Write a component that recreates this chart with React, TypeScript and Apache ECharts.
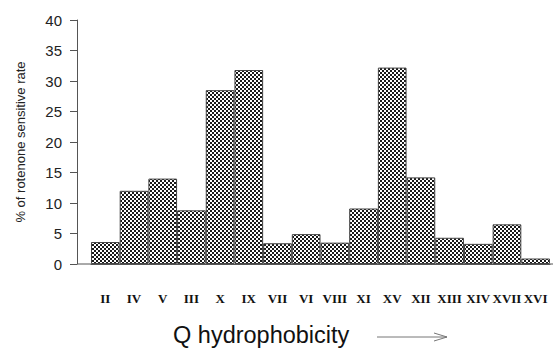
import React, { useEffect, useRef } from "react";
import * as echarts from "echarts";

const categories = ["II", "IV", "V", "III", "X", "IX", "VII", "VI", "VIII", "XI", "XV", "XII", "XIII", "XIV", "XVII", "XVI"];
const rates = [3.6, 12.0, 14.0, 8.8, 28.5, 31.8, 3.4, 4.9, 3.5, 9.1, 32.2, 14.2, 4.3, 3.3, 6.5, 0.9];
const yTicks = { min: 0, max: 40, interval: 5 };
const yTitle = "% of rotenone sensitive rate";
const xTitle = "Q hydrophobicity";

function makePattern(): HTMLCanvasElement {
  const c = document.createElement("canvas");
  c.width = 4;
  c.height = 4;
  const ctx = c.getContext("2d")!;
  ctx.fillStyle = "#ffffff";
  ctx.fillRect(0, 0, 4, 4);
  ctx.fillStyle = "#1a1a1a";
  ctx.fillRect(0, 0, 2, 2);
  ctx.fillRect(2, 2, 2, 2);
  return c;
}

export default function App() {
  const ref = useRef<HTMLDivElement>(null);
  useEffect(() => {
    if (!ref.current) return;
    const chart = echarts.init(ref.current, null, { renderer: "svg" });
    const pattern = makePattern();
    chart.setOption({
      animation: false,
      backgroundColor: "#ffffff",
      grid: { left: 91, right: 5, top: 20, bottom: 88, containLabel: false },
      xAxis: {
        type: "category",
        data: categories,
        boundaryGap: true,
        axisLine: { show: true, lineStyle: { color: "#555", width: 1 } },
        axisTick: { show: false },
        axisLabel: {
          interval: 0,
          margin: 28,
          fontFamily: "Liberation Serif",
          fontWeight: "bold",
          fontSize: 13,
          color: "#111",
        },
      },
      yAxis: {
        type: "value",
        min: yTicks.min,
        max: yTicks.max,
        interval: yTicks.interval,
        offset: 14,
        name: yTitle,
        nameLocation: "middle",
        nameGap: 50,
        nameTextStyle: { fontFamily: "Liberation Sans", fontSize: 13, color: "#222" },
        axisLine: { show: true, lineStyle: { color: "#555", width: 1 } },
        axisTick: { show: true, inside: false, length: 7, lineStyle: { color: "#555" } },
        axisLabel: { margin: 15, fontFamily: "Liberation Sans", fontSize: 15, color: "#222" },
        splitLine: { show: false },
      },
      series: [
        {
          type: "bar",
          data: rates,
          barCategoryGap: "0%",
          itemStyle: {
            color: { image: pattern, repeat: "repeat" },
            borderColor: "#444",
            borderWidth: 1,
          },
        },
      ],
      graphic: [
        { type: "line", shape: { x1: 77, y1: 264, x2: 91, y2: 264 }, style: { stroke: "#555", lineWidth: 1 } },
        { type: "line", shape: { x1: 550, y1: 264, x2: 553, y2: 264 }, style: { stroke: "#555", lineWidth: 1 } },
        {
          type: "text",
          left: 173,
          top: 323,
          style: { text: xTitle, fontFamily: "Liberation Sans", fontSize: 23.5, fill: "#111" },
        },
        { type: "line", shape: { x1: 377, y1: 337, x2: 447, y2: 337 }, style: { stroke: "#777", lineWidth: 1 } },
        {
          type: "polyline",
          shape: { points: [[434, 333], [447, 337], [434, 341]] },
          style: { stroke: "#777", lineWidth: 1, fill: null },
        },
      ],
    });
    return () => chart.dispose();
  }, []);
  return <div ref={ref} style={{ position: "fixed", left: 0, top: 0, width: 555, height: 352 }} />;
}
